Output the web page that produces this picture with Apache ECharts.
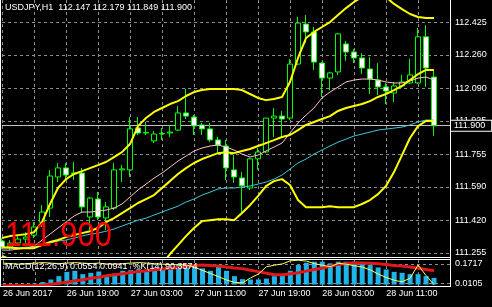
<!DOCTYPE html>
<html><head><meta charset="utf-8">
<script src="https://cdn.jsdelivr.net/npm/echarts@6/dist/echarts.min.js"></script>
<style>html,body{margin:0;padding:0;background:#000;}#c{width:492px;height:307px;}</style>
</head><body><div id="c"></div>
<script>
// ---- data (USDJPY H1, from 26 Jun 11:00) ----
const opens  = [111.315,111.284,111.305,111.325,111.345,111.411,111.482,111.640,111.686,111.660,111.660,111.437,111.528,111.432,111.482,111.676,111.676,111.889,111.863,111.823,111.858,111.863,111.878,111.965,111.944,111.904,111.884,111.828,111.797,111.676,111.635,111.584,111.732,111.767,111.939,111.949,111.939,112.213,112.416,112.376,112.218,112.142,112.173,112.315,112.274,112.244,112.188,112.132,112.097,112.066,112.102,112.117,112.117,112.351,112.147];
const highs  = [111.330,111.320,111.345,111.360,111.411,111.498,111.675,111.711,111.711,111.716,111.686,111.539,111.564,111.513,111.711,111.701,111.944,111.944,111.919,111.873,111.889,111.904,112.000,112.087,111.955,111.914,111.914,111.843,111.828,111.752,111.665,111.737,111.787,111.939,111.990,111.975,112.239,112.452,112.462,112.401,112.223,112.173,112.371,112.330,112.289,112.269,112.249,112.218,112.117,112.122,112.158,112.239,112.396,112.411,112.179];
const lows   = [111.274,111.269,111.290,111.300,111.330,111.386,111.437,111.615,111.625,111.625,111.457,111.371,111.422,111.371,111.473,111.615,111.640,111.853,111.853,111.812,111.828,111.843,111.873,111.934,111.853,111.853,111.817,111.761,111.625,111.610,111.457,111.574,111.676,111.761,111.843,111.838,111.929,112.208,112.320,112.183,112.046,112.081,112.158,112.229,112.218,112.163,112.061,112.056,112.010,112.020,112.092,112.112,112.112,112.097,111.849];
const closes = [111.284,111.305,111.325,111.335,111.386,111.462,111.645,111.686,111.650,111.655,111.488,111.533,111.437,111.488,111.676,111.681,111.884,111.863,111.866,111.858,111.861,111.868,111.965,111.949,111.899,111.884,111.828,111.802,111.686,111.640,111.595,111.732,111.767,111.939,111.949,111.934,112.213,112.421,112.376,112.223,112.142,112.168,112.366,112.274,112.244,112.193,112.137,112.097,112.076,112.102,112.122,112.158,112.351,112.193,111.900];
const upperBand  = [111.330,111.340,111.345,111.350,111.360,111.411,111.503,111.584,111.629,111.655,111.670,111.685,111.700,111.716,111.741,111.766,111.807,111.898,111.939,111.970,111.990,112.010,112.025,112.051,112.071,112.081,112.086,112.086,112.086,112.086,112.081,112.061,112.041,112.030,112.036,112.046,112.122,112.244,112.345,112.376,112.401,112.426,112.462,112.497,112.528,112.553,112.568,112.568,112.553,112.518,112.492,112.467,112.452,112.447,112.447];
const middleBand = [111.284,111.282,111.279,111.279,111.279,111.294,111.310,111.320,111.335,111.345,111.355,111.365,111.381,111.411,111.431,111.457,111.482,111.508,111.528,111.548,111.584,111.619,111.655,111.685,111.711,111.731,111.746,111.761,111.766,111.761,111.772,111.782,111.797,111.812,111.827,111.843,111.853,111.878,111.904,111.919,111.934,111.949,111.975,111.990,112.000,112.010,112.025,112.046,112.061,112.081,112.102,112.132,112.162,112.183,112.183];
const lowerBand  = [111.239,111.223,111.213,111.208,111.198,111.178,111.117,111.056,111.041,111.036,111.041,111.046,111.061,111.107,111.122,111.147,111.157,111.117,111.117,111.127,111.198,111.249,111.294,111.340,111.381,111.416,111.421,111.426,111.426,111.421,111.457,111.497,111.543,111.594,111.619,111.629,111.599,111.523,111.487,111.487,111.487,111.492,111.487,111.487,111.487,111.503,111.523,111.553,111.594,111.665,111.751,111.838,111.898,111.924,111.924];
const pinkMA = [111.269,111.269,111.274,111.279,111.289,111.320,111.350,111.381,111.411,111.442,111.462,111.462,111.467,111.472,111.482,111.503,111.538,111.574,111.604,111.634,111.660,111.690,111.721,111.746,111.772,111.787,111.797,111.802,111.792,111.777,111.756,111.741,111.751,111.772,111.792,111.812,111.863,111.914,111.954,111.990,112.041,112.071,112.096,112.122,112.132,112.137,112.137,112.132,112.122,112.117,112.117,112.127,112.142,112.147,112.132];
const cyanMA = [111.279,111.279,111.279,111.284,111.284,111.294,111.305,111.315,111.320,111.330,111.340,111.350,111.355,111.365,111.376,111.391,111.406,111.421,111.431,111.447,111.462,111.477,111.492,111.513,111.528,111.548,111.563,111.579,111.584,111.584,111.589,111.594,111.604,111.614,111.629,111.650,111.680,111.711,111.731,111.756,111.777,111.797,111.817,111.832,111.848,111.858,111.868,111.878,111.883,111.888,111.893,111.904,111.919,111.929,111.929];
const macdHist = [-0.004,-0.003,-0.002,0.000,0.008,0.021,0.042,0.070,0.106,0.115,0.087,0.098,0.109,0.078,0.092,0.115,0.120,0.129,0.120,0.143,0.135,0.148,0.169,0.163,0.154,0.135,0.115,0.148,0.115,0.070,0.045,0.042,0.042,0.050,0.070,0.078,0.115,0.163,0.182,0.191,0.191,0.177,0.191,0.191,0.191,0.172,0.163,0.143,0.126,0.106,0.098,0.087,0.087,0.070,0.0554];
const macdSignal = [-0.011,-0.011,-0.010,-0.009,-0.008,-0.006,0.002,0.010,0.019,0.031,0.040,0.053,0.061,0.074,0.082,0.091,0.101,0.109,0.116,0.123,0.129,0.136,0.142,0.150,0.159,0.163,0.160,0.154,0.146,0.139,0.133,0.120,0.108,0.095,0.082,0.082,0.091,0.099,0.112,0.125,0.137,0.154,0.167,0.176,0.180,0.181,0.178,0.173,0.167,0.160,0.154,0.146,0.137,0.125,0.116];
const stochK = [88,86,84,86,88,90,88,86,88,90,88,86,88,85,84,86,88,90,88,86,84,82,82,81,72,60,48,36,23,14,12,31,46,74,80,85,97,99,96,86,80,74,87,84,78,73,62,46,33,22,16,30,81,40,5];
const priceTicks = [111.255,111.420,111.590,111.755,111.925,112.090,112.260,112.425];
const macdTicks = [0.0105,0.1717];
const timeLabels = ['26 Jun 2017','26 Jun 19:00','27 Jun 03:00','27 Jun 11:00','27 Jun 19:00','28 Jun 03:00','28 Jun 11:00'];
const lastPrice = 111.900;
const headerText = 'USDJPY,H1  112.147 112.179 111.849 111.900';
const macdText = 'MACD(12,26,9) 0.0554 0.0941  %K(14) 90.3574';

// categories: hourly bars from 26 Jun 11:00 (57 slots incl. right shift)
const categories = [];
for (let k = 0; k < 57; k++) {
  const h = 11 + k, day = 26 + Math.floor(h / 24), hh = h % 24;
  categories.push(day + ' Jun ' + String(hh).padStart(2, '0') + ':00');
}
const candles = opens.map((o, i) => [o, closes[i], lows[i], highs[i]]);

const FONT = "'Liberation Sans', Arial, sans-serif";
const GRIDC = '#8c8c8c';
const splitX = {show: true, interval: (i) => i % 4 === 0, lineStyle: {color: GRIDC, type: [3, 3], width: 1}};
const splitY = {show: true, lineStyle: {color: GRIDC, type: [3, 3], width: 1}};

const chart = echarts.init(document.getElementById('c'), null, {renderer: 'canvas'});
chart.setOption({
  animation: false,
  backgroundColor: '#000',
  grid: [
    {left: 2, right: 42, top: 0, height: 257},
    {left: 2, right: 42, top: 260, height: 26}
  ],
  xAxis: [
    {type: 'category', gridIndex: 0, data: categories, boundaryGap: false,
     axisLine: {show: false}, axisTick: {show: false}, axisLabel: {show: false}, splitLine: splitX},
    {type: 'category', gridIndex: 1, data: categories, boundaryGap: false,
     axisLine: {show: false}, axisTick: {show: false},
     axisLabel: {show: true, interval: (i) => i % 8 === 0 && i / 8 < timeLabels.length,
       formatter: (v, i) => timeLabels[i / 8] || '', color: '#fff', fontSize: 9, fontFamily: FONT,
       align: 'left', margin: 3},
     splitLine: splitX}
  ],
  yAxis: [
    {type: 'value', gridIndex: 0, position: 'right', min: 111.234, max: 112.538,
     axisLine: {show: false}, axisTick: {show: false, customValues: priceTicks},
     axisLabel: {customValues: priceTicks, formatter: (v) => v.toFixed(3), color: '#fff', fontSize: 9, fontFamily: FONT, margin: 5},
     splitLine: splitY},
    {type: 'value', gridIndex: 1, position: 'right', min: -0.0121, max: 0.2051,
     axisLine: {show: false}, axisTick: {show: false, customValues: macdTicks},
     axisLabel: {customValues: macdTicks, formatter: (v) => v.toFixed(4), color: '#fff', fontSize: 9, fontFamily: FONT, margin: 5},
     splitLine: splitY},
    {type: 'value', gridIndex: 1, min: 0, max: 100, show: false}
  ],
  series: [
    {type: 'candlestick', xAxisIndex: 0, yAxisIndex: 0, data: candles, barWidth: 5, z: 2,
     itemStyle: {color: '#000', color0: '#fff', borderColor: '#00ff00', borderColor0: '#00ff00', borderWidth: 1},
     markLine: {silent: true, symbol: ['none', 'none'], z: 1,
       lineStyle: {color: '#c0c0c0', type: 'solid', width: 1},
       label: {position: 'end', distance: 1, formatter: () => lastPrice.toFixed(3), color: '#fff', fontSize: 9, fontFamily: FONT,
         backgroundColor: '#000', borderColor: '#fff', borderWidth: 1, padding: [1, 6, 0, 3]},
       data: [{yAxis: lastPrice}]}},
    {type: 'line', xAxisIndex: 0, yAxisIndex: 0, data: cyanMA, showSymbol: false, z: 3, lineStyle: {color: '#3cc8d8', width: 1}},
    {type: 'line', xAxisIndex: 0, yAxisIndex: 0, data: pinkMA, showSymbol: false, z: 3, lineStyle: {color: '#ffc0cb', width: 1}},
    {type: 'line', xAxisIndex: 0, yAxisIndex: 0, data: upperBand, showSymbol: false, z: 4, lineStyle: {color: '#ffff00', width: 2}},
    {type: 'line', xAxisIndex: 0, yAxisIndex: 0, data: middleBand, showSymbol: false, z: 4, lineStyle: {color: '#ffff00', width: 2}},
    {type: 'line', xAxisIndex: 0, yAxisIndex: 0, data: lowerBand, showSymbol: false, z: 4, lineStyle: {color: '#ffff00', width: 2}},
    {type: 'bar', xAxisIndex: 1, yAxisIndex: 1, data: macdHist, barWidth: 5, z: 2, itemStyle: {color: '#1fb5ea'}},
    {type: 'line', xAxisIndex: 1, yAxisIndex: 1, data: macdSignal, showSymbol: false, z: 3, lineStyle: {color: '#e01818', width: 3}},
    {type: 'line', xAxisIndex: 1, yAxisIndex: 2, data: stochK, showSymbol: false, z: 4, lineStyle: {color: '#ffff66', width: 1}}
  ],
  graphic: [
    {type: 'line', silent: true, z: 10, shape: {x1: 0.5, y1: 0, x2: 0.5, y2: 287}, style: {stroke: '#fff', lineWidth: 1}},
    {type: 'line', silent: true, z: 10, shape: {x1: 450.5, y1: 0, x2: 450.5, y2: 287}, style: {stroke: '#fff', lineWidth: 1}},
    {type: 'line', silent: true, z: 10, shape: {x1: 0, y1: 257.5, x2: 451, y2: 257.5}, style: {stroke: '#fff', lineWidth: 1}},
    {type: 'line', silent: true, z: 10, shape: {x1: 0, y1: 259.5, x2: 451, y2: 259.5}, style: {stroke: '#fff', lineWidth: 1}},
    {type: 'line', silent: true, z: 10, shape: {x1: 0, y1: 286.5, x2: 451, y2: 286.5}, style: {stroke: '#fff', lineWidth: 1}},
    {type: 'text', silent: true, z: 20, left: 5, top: 3, style: {text: headerText, fill: '#fff', font: '9px ' + FONT}},
    {type: 'text', silent: true, z: 20, left: 5, top: 262, style: {text: macdText, fill: '#fff', font: '9px ' + FONT}},
    {type: 'text', silent: true, z: 20, x: 5, y: 219, scaleX: 0.88, scaleY: 1,
     style: {x: 0, y: 0, text: lastPrice.toFixed(3), fill: '#ff0000', verticalAlign: 'top', align: 'left',
       font: "35px 'Liberation Sans', Arial, sans-serif"}}
  ]
});
</script>
</body></html>
